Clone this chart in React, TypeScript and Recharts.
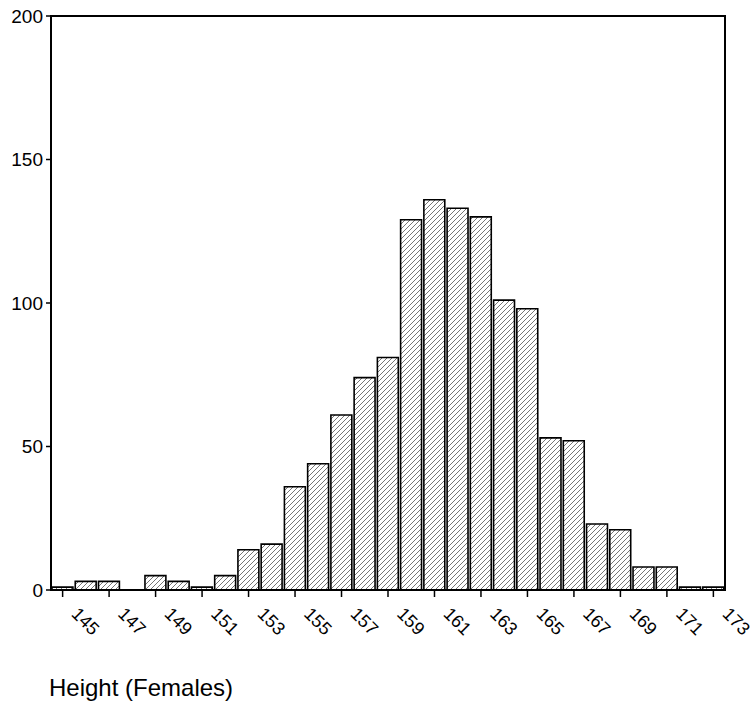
import React from 'react';
import { BarChart, Bar, XAxis, YAxis, ReferenceArea } from 'recharts';

// Height in cm (bin centres) and number of females in each bin
const heights = [145, 146, 147, 148, 149, 150, 151, 152, 153, 154, 155, 156, 157, 158, 159, 160, 161, 162, 163, 164, 165, 166, 167, 168, 169, 170, 171, 172, 173];
const counts = [1, 3, 3, 0, 5, 3, 1, 5, 14, 16, 36, 44, 61, 74, 81, 129, 136, 133, 130, 101, 98, 53, 52, 23, 21, 8, 8, 1, 1];

const xTicks = [145, 147, 149, 151, 153, 155, 157, 159, 161, 163, 165, 167, 169, 171, 173];
const yTicks = [0, 50, 100, 150, 200];
const xTitle = 'Height (Females)';

const FONT = '"Liberation Sans", Arial, sans-serif';
const PLOT_W = 674;

const XTick = (props: any) => {
  const { x, y, payload } = props;
  return (
    <g transform={`translate(${x + 8},${y + 16})`}>
      <text transform="rotate(45)" textAnchor="start" fontSize={18} fontFamily={FONT} fill="#000">
        {payload.value}
      </text>
    </g>
  );
};

export default function App() {
  const chartData = heights.map((h, i) => ({ height: h, count: counts[i] }));

  return (
    <div style={{ position: 'absolute', top: 0, left: 0, width: 755, height: 709 }}>
      <BarChart
        width={755}
        height={709}
        data={chartData}
        margin={{ top: 16, right: 30, left: 0, bottom: 0 }}
        barCategoryGap={0}
        barGap={0}
      >
        <defs>
          <pattern id="hatch" patternUnits="userSpaceOnUse" width="5" height="5">
            <rect width="5" height="5" fill="#fff" />
            <path d="M-1,1 l2,-2 M0,5 l5,-5 M4,6 l2,-2" stroke="#666" strokeWidth={0.9} />
          </pattern>
        </defs>
        <XAxis
          dataKey="height"
          type="number"
          domain={[144.5, 173.5]}
          ticks={xTicks}
          interval={0}
          allowDataOverflow
          height={119}
          tickSize={7}
          tickMargin={2}
          axisLine={{ stroke: '#000', strokeWidth: 2 }}
          tickLine={{ stroke: '#000', strokeWidth: 1.5 }}
          tick={<XTick />}
          label={{
            content: (p: any) => (
              <text
                x={p.viewBox.x - 2}
                y={p.viewBox.y + 106}
                fontSize={24}
                fontFamily={FONT}
                fill="#000"
              >
                {xTitle}
              </text>
            ),
          }}
        />
        <YAxis
          type="number"
          domain={[0, 200]}
          ticks={yTicks}
          interval={0}
          width={51}
          tickSize={5}
          tickMargin={3}
          axisLine={{ stroke: '#000', strokeWidth: 2 }}
          tickLine={{ stroke: '#000', strokeWidth: 1.5 }}
          tick={{ fontSize: 19, fontFamily: FONT, fill: '#000' }}
        />
        <ReferenceArea
          x1={144.5}
          x2={173.5}
          y1={0}
          y2={200}
          fill="none"
          stroke="#000"
          strokeWidth={2}
          fillOpacity={0}
        />
        <Bar
          dataKey="count"
          fill="url(#hatch)"
          stroke="#000"
          strokeWidth={1.6}
          barSize={PLOT_W / heights.length}
          isAnimationActive={false}
        />
      </BarChart>
    </div>
  );
}
